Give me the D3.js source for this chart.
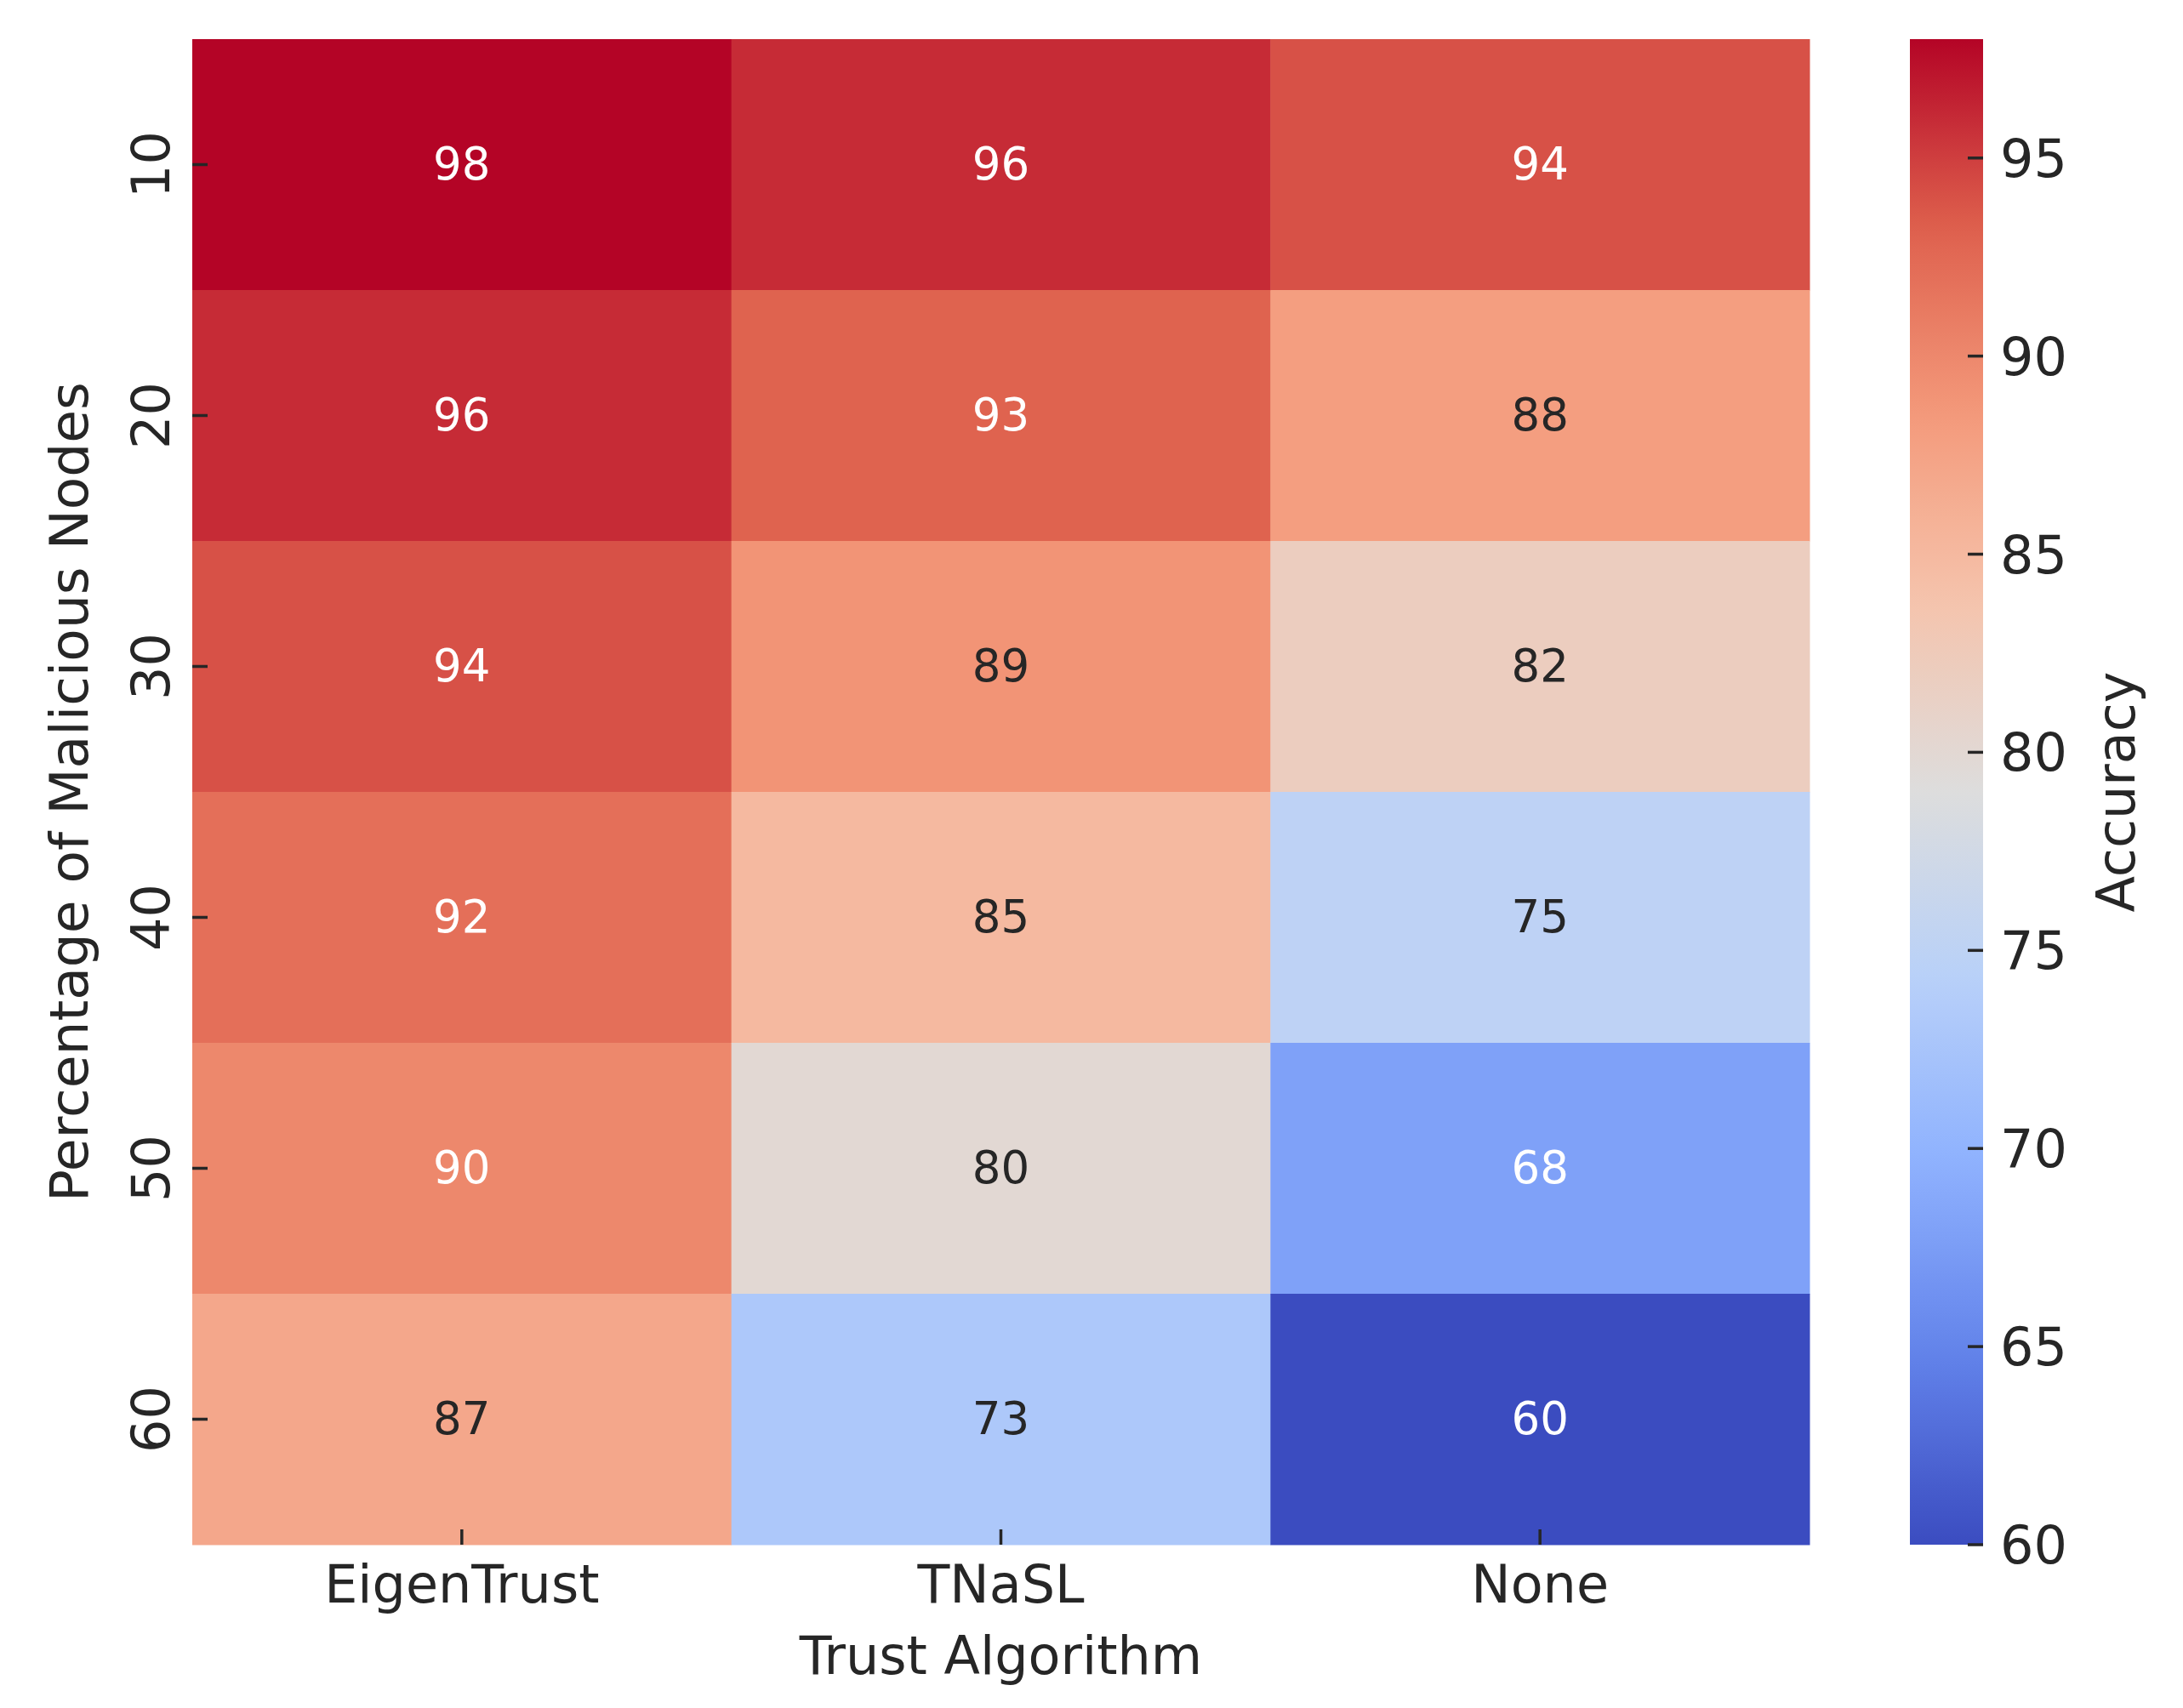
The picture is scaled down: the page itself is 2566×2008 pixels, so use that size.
<!DOCTYPE html>
<html>
<head>
<meta charset="utf-8">
<script src="https://cdn.jsdelivr.net/npm/d3@7"></script>
<style>
  html, body { margin: 0; padding: 0; background: #ffffff; }
  svg { display: block; }
  text { font-family: "DejaVu Sans", sans-serif; }
</style>
</head>
<body>
<svg id="chart" width="2566" height="2008"></svg>
<script>
// ---- data ----
const algorithms = ["EigenTrust", "TNaSL", "None"];
const maliciousPct = ["10", "20", "30", "40", "50", "60"];
const eigenTrustAcc = [98, 96, 94, 92, 90, 87];
const tnaslAcc = [96, 93, 89, 85, 80, 73];
const noneAcc = [94, 88, 82, 75, 68, 60];
const colorbarTicks = [60, 65, 70, 75, 80, 85, 90, 95];
const xTitle = "Trust Algorithm";
const yTitle = "Percentage of Malicious Nodes";
const cbTitle = "Accuracy";

const seriesByAlg = { "EigenTrust": eigenTrustAcc, "TNaSL": tnaslAcc, "None": noneAcc };
const cells = [];
algorithms.forEach(a => maliciousPct.forEach((p, i) => cells.push({ alg: a, pct: p, v: seriesByAlg[a][i] })));

// ---- layout ----
const hm = { left: 226, right: 2127, top: 46, bottom: 1816 };
const cb = { left: 2245, right: 2331 };
const vmin = 60, vmax = 98;

const svg = d3.select("#chart");

// coolwarm colormap
const cwStops = ["#3b4cc0", "#6282ea", "#8db0fe", "#b8d0f9", "#dddddd", "#f5c4ad", "#f49a7b", "#de604d", "#b40426"];
const cw = d3.scaleLinear().domain(d3.range(9).map(i => i / 8)).range(cwStops).interpolate(d3.interpolateRgb).clamp(true);
const norm = d3.scaleLinear().domain([vmin, vmax]).range([0, 1]).clamp(true);
const color = v => cw(norm(v));

function lum(c) {
  const rgb = d3.rgb(c);
  const f = x => { x /= 255; return x <= 0.03928 ? x / 12.92 : Math.pow((x + 0.055) / 1.055, 2.4); };
  return 0.2126 * f(rgb.r) + 0.7152 * f(rgb.g) + 0.0722 * f(rgb.b);
}

const x = d3.scaleBand().domain(algorithms).range([hm.left, hm.right]).padding(0);
const y = d3.scaleBand().domain(maliciousPct).range([hm.top, hm.bottom]).padding(0);

// cells
svg.append("g").selectAll("rect").data(cells).join("rect")
  .attr("x", d => x(d.alg))
  .attr("y", d => y(d.pct))
  .attr("width", x.bandwidth() + 0.5)
  .attr("height", y.bandwidth() + 0.5)
  .attr("fill", d => color(d.v));

// annotations
svg.append("g").selectAll("text").data(cells).join("text")
  .attr("x", d => x(d.alg) + x.bandwidth() / 2)
  .attr("y", d => y(d.pct) + y.bandwidth() / 2 + 17)
  .attr("text-anchor", "middle")
  .attr("font-size", 53)
  .attr("fill", d => lum(color(d.v)) > 0.408 ? "#262626" : "#ffffff")
  .text(d => d.v);

// x axis (ticks drawn inward, as in reference)
const xAxis = svg.append("g");
xAxis.selectAll("line").data(algorithms).join("line")
  .attr("x1", d => x(d) + x.bandwidth() / 2).attr("x2", d => x(d) + x.bandwidth() / 2)
  .attr("y1", hm.bottom).attr("y2", hm.bottom - 18)
  .attr("stroke", "#262626").attr("stroke-width", 3.5);
xAxis.selectAll("text").data(algorithms).join("text")
  .attr("x", d => x(d) + x.bandwidth() / 2)
  .attr("y", 1884)
  .attr("text-anchor", "middle")
  .attr("font-size", 62)
  .attr("fill", "#262626")
  .text(d => d);
svg.append("text")
  .attr("x", (hm.left + hm.right) / 2)
  .attr("y", 1968)
  .attr("text-anchor", "middle")
  .attr("font-size", 62)
  .attr("fill", "#262626")
  .text(xTitle);

// y axis
const yAxis = svg.append("g");
yAxis.selectAll("line").data(maliciousPct).join("line")
  .attr("x1", hm.left).attr("x2", hm.left + 18)
  .attr("y1", d => y(d) + y.bandwidth() / 2).attr("y2", d => y(d) + y.bandwidth() / 2)
  .attr("stroke", "#262626").attr("stroke-width", 3.5);
yAxis.selectAll("text").data(maliciousPct).join("text")
  .attr("transform", d => `translate(199,${y(d) + y.bandwidth() / 2}) rotate(-90)`)
  .attr("text-anchor", "middle")
  .attr("font-size", 62)
  .attr("fill", "#262626")
  .text(d => d);
svg.append("text")
  .attr("transform", `translate(103,${(hm.top + hm.bottom) / 2}) rotate(-90)`)
  .attr("text-anchor", "middle")
  .attr("font-size", 63)
  .attr("fill", "#262626")
  .text(yTitle);

// colorbar
const cbScale = d3.scaleLinear().domain([vmin, vmax]).range([hm.bottom, hm.top]);
const defs = svg.append("defs");
const grad = defs.append("linearGradient").attr("id", "cbgrad")
  .attr("x1", 0).attr("y1", 1).attr("x2", 0).attr("y2", 0);
grad.selectAll("stop").data(d3.range(0, 1.0001, 0.02)).join("stop")
  .attr("offset", d => d)
  .attr("stop-color", d => cw(d));
svg.append("rect")
  .attr("x", cb.left).attr("y", hm.top)
  .attr("width", cb.right - cb.left).attr("height", hm.bottom - hm.top)
  .attr("fill", "url(#cbgrad)");
const cbAxis = svg.append("g");
cbAxis.selectAll("line").data(colorbarTicks).join("line")
  .attr("x1", cb.right - 18).attr("x2", cb.right)
  .attr("y1", d => cbScale(d)).attr("y2", d => cbScale(d))
  .attr("stroke", "#262626").attr("stroke-width", 3.5);
cbAxis.selectAll("text").data(colorbarTicks).join("text")
  .attr("x", cb.right + 20)
  .attr("y", d => cbScale(d) + 22)
  .attr("font-size", 62)
  .attr("fill", "#262626")
  .text(d => d);
svg.append("text")
  .attr("transform", `translate(2509,${(hm.top + hm.bottom) / 2}) rotate(-90)`)
  .attr("text-anchor", "middle")
  .attr("font-size", 62)
  .attr("fill", "#262626")
  .text(cbTitle);
</script>
</body>
</html>
